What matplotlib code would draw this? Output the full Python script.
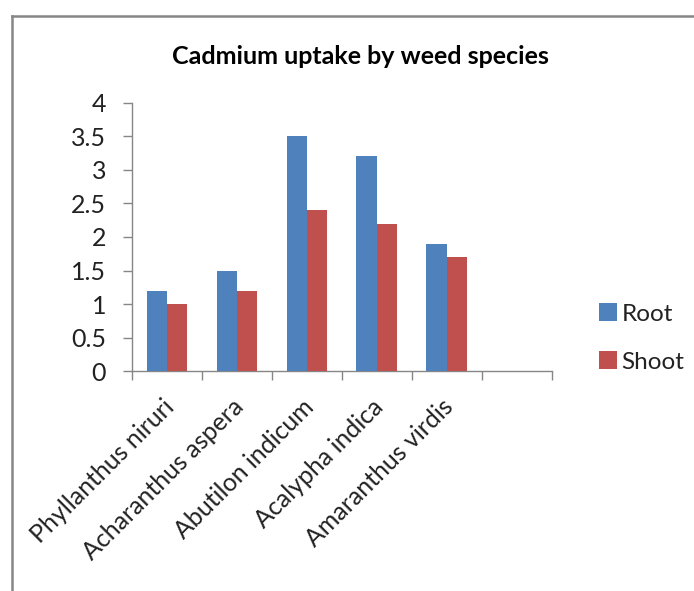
import matplotlib
matplotlib.use("Agg")
import matplotlib.pyplot as plt
from matplotlib.lines import Line2D
import matplotlib.transforms as mtransforms
import numpy as np

plt.rcParams['font.family'] = ['Lato', 'DejaVu Sans']

species = ['Phyllanthus niruri', 'Acharanthus aspera', 'Abutilon indicum',
           'Acalypha indica', 'Amaranthus virdis']
root = [1.2, 1.5, 3.5, 3.2, 1.9]
shoot = [1.0, 1.2, 2.4, 2.2, 1.7]
n_slots = 6  # excel left an empty sixth category

fig = plt.figure(figsize=(6.94, 5.91), dpi=100)
ax = fig.add_axes([0.190, 0.372, 0.605, 0.454])

x = np.arange(len(species)) + 0.5
w = 0.29
ax.bar(x - w / 2, root, w, color='#4F81BD', label='Root', zorder=3)
ax.bar(x + w / 2, shoot, w, color='#C0504D', label='Shoot', zorder=3)

ax.set_xlim(0, n_slots)
ax.set_ylim(0, 4)
ax.set_yticks(np.arange(0, 4.01, 0.5))
ax.set_yticklabels(['0', '0.5', '1', '1.5', '2', '2.5', '3', '3.5', '4'])

ax.set_xticks(np.arange(0, n_slots + 1))
ax.set_xticklabels([])
ax.set_xticks(x, minor=True)
ax.set_xticklabels(species, minor=True, rotation=45, ha='right',
                   rotation_mode='anchor', fontsize=18)
ax.tick_params(axis='x', which='minor', length=0, pad=17)
ax.tick_params(axis='x', which='major', length=6.5, width=1, color='#868686')
ax.tick_params(axis='y', length=6.5, width=1, color='#868686', labelsize=18,
               pad=12, labelcolor='#222222')
shift = mtransforms.ScaledTranslation(-5 / 100, 0, fig.dpi_scale_trans)
for lbl in ax.get_xticklabels(minor=True):
    lbl.set_color('#222222')
    lbl.set_transform(lbl.get_transform() + shift)

for s in ['top', 'right']:
    ax.spines[s].set_visible(False)
for s in ['left', 'bottom']:
    ax.spines[s].set_color('#868686')
    ax.spines[s].set_linewidth(1)

fig.text(0.519, 0.905, 'Cadmium uptake by weed species', ha='center',
         va='center', fontsize=18, fontweight='bold')

leg = fig.legend(loc='center left', bbox_to_anchor=(0.845, 0.428), frameon=False,
                 fontsize=17.5, handlelength=0.75, handleheight=0.75,
                 handletextpad=0.2, labelspacing=1.1, borderpad=0)
for t in leg.get_texts():
    t.set_color('#222222')

# chart frame (only top and left edges visible in the crop)
fig.add_artist(Line2D([0.018, 1.0], [0.973, 0.973], color='#868686', lw=1.8))
fig.add_artist(Line2D([0.018, 0.018], [0.0, 0.973], color='#868686', lw=1.8))

fig.savefig('out.png', dpi=100)
